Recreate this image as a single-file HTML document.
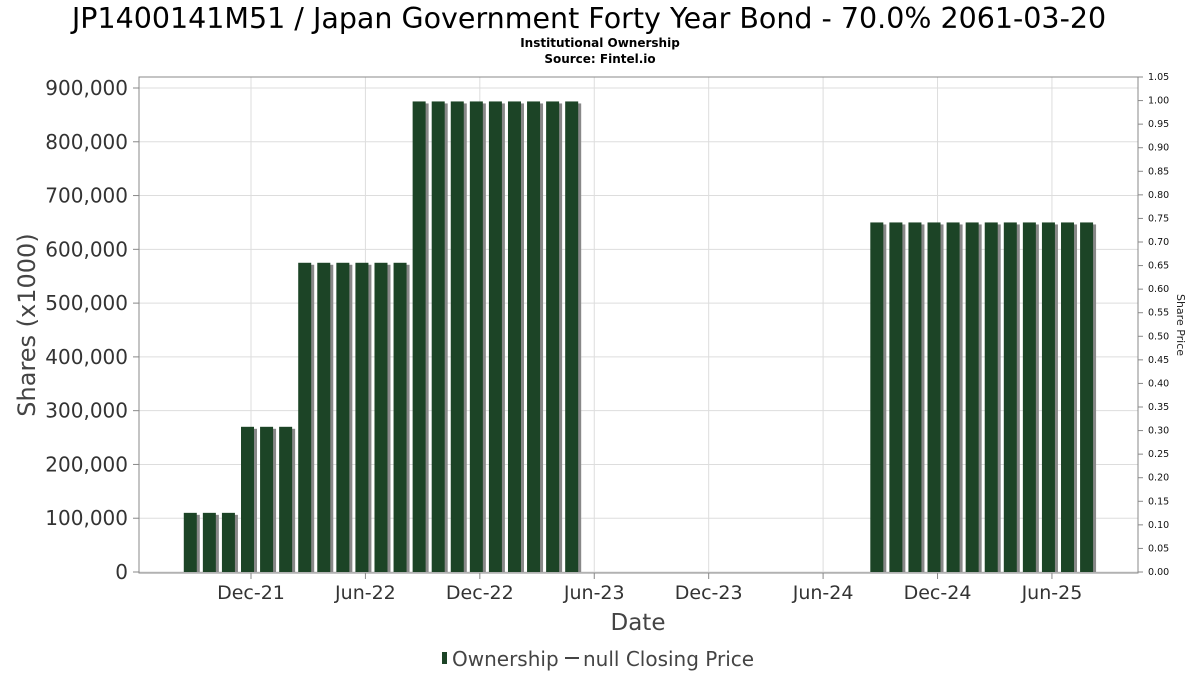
<!DOCTYPE html>
<html><head><meta charset="utf-8"><style>
body{margin:0;background:#fff;}
svg{display:block;font-family:"DejaVu Sans","Liberation Sans",sans-serif;}
</style></head><body>
<svg id="chart" width="1200" height="675">
<text x="589" y="28" text-anchor="middle" font-size="28.5" fill="#000">JP1400141M51 / Japan Government Forty Year Bond - 70.0% 2061-03-20</text>
<text x="600" y="47" text-anchor="middle" font-size="12" font-weight="bold" fill="#000">Institutional Ownership</text>
<text x="600" y="63" text-anchor="middle" font-size="12" font-weight="bold" fill="#000">Source: Fintel.io</text>
<g id="grid"></g>
<g id="bars"></g>
<rect x="139" y="77" width="999" height="496" fill="none" stroke="#888"/>
<g id="axes"></g>
<text transform="translate(35,325) rotate(-90)" text-anchor="middle" font-size="24" fill="#444">Shares (x1000)</text>
<text transform="translate(1177,325) rotate(90)" text-anchor="middle" font-size="11" fill="#222">Share Price</text>
<text x="638" y="630" text-anchor="middle" font-size="23" fill="#444">Date</text>
<g>
<rect x="442" y="652" width="5" height="12" fill="#1c4426"/>
<text x="452" y="666" font-size="20" fill="#444">Ownership</text>
<line x1="565" y1="658" x2="579" y2="658" stroke="#444" stroke-width="2"/>
<text x="583" y="666" font-size="20" fill="#444">null Closing Price</text>
</g>
</svg>
<script>
// month index 0 = Dec-21
const barMonths = [-3,-2,-1,0,1,2,3,4,5,6,7,8,9,10,11,12,13,14,15,16,17,33,34,35,36,37,38,39,40,41,42,43,44];
const barValues = [110000,110000,110000,270000,270000,270000,575000,575000,575000,575000,575000,575000,875000,875000,875000,875000,875000,875000,875000,875000,875000,650000,650000,650000,650000,650000,650000,650000,650000,650000,650000,650000,650000];
const xTickMonths = [0,6,12,18,24,30,36,42];
const xTickLabels = ["Dec-21","Jun-22","Dec-22","Jun-23","Dec-23","Jun-24","Dec-24","Jun-25"];
const yTicks = [0,100000,200000,300000,400000,500000,600000,700000,800000,900000];
const rTicks = [0,0.05,0.1,0.15,0.2,0.25,0.3,0.35,0.4,0.45,0.5,0.55,0.6,0.65,0.7,0.75,0.8,0.85,0.9,0.95,1.0,1.05];
const NS="http://www.w3.org/2000/svg";
const X=m=>251+m*19.07;
const Y=v=>572-v/900000*484;
const R=v=>572-v/1.05*495;
function mk(t,a,p){const e=document.createElementNS(NS,t);for(const k in a)e.setAttribute(k,a[k]);p.appendChild(e);return e;}
const grid=document.getElementById('grid'),bars=document.getElementById('bars'),axes=document.getElementById('axes');
yTicks.forEach(v=>{
 const l=mk('line',{x1:139,x2:1138,y1:Y(v),y2:Y(v),stroke:'#ddd'},grid);
 
 
 const t=mk('text',{x:128,y:Y(v)+7,'text-anchor':'end','font-size':20,fill:'#333'},axes);
 t.textContent=v.toLocaleString('en-US');
 
 
 const k=mk('line',{x1:133,x2:139,y1:Y(v),y2:Y(v),stroke:'#888'},axes);
 
 
});
xTickMonths.forEach((m,i)=>{
 const l=mk('line',{x1:X(m),x2:X(m),y1:77,y2:573,stroke:'#ddd'},grid);
 
 
 const k=mk('line',{x1:X(m),x2:X(m),y1:573,y2:579,stroke:'#888'},axes);
 
 
 const t=mk('text',{x:X(m),y:599,'text-anchor':'middle','font-size':19,fill:'#333'},axes);
 t.textContent=xTickLabels[i];
 
 
});
rTicks.forEach(v=>{
 const k=mk('line',{x1:1138,x2:1143,y1:R(v),y2:R(v),stroke:'#888'},axes);
 
 
 const t=mk('text',{x:1148,y:R(v)+3,'font-size':9.5,fill:'#111'},axes);
 t.textContent=v.toFixed(2);
 
 
});
barMonths.forEach((m,i)=>{
 const x=X(m)-10,y=Y(barValues[i]),h=572-y;
 const s=mk('rect',{x:x+3,y:y+2,width:13,height:h-2,fill:'#888'},bars);
 
 
 const b=mk('rect',{x:x,y:y,width:13,height:h,fill:'#1c4426'},bars);
 
 
});
</script>
</body></html>
